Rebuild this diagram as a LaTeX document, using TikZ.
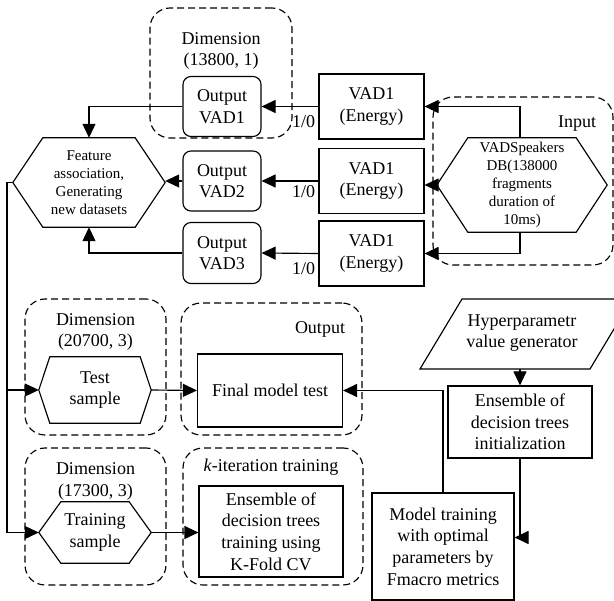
\documentclass[tikz,border=0pt]{standalone}
\usepackage{fontspec}
\setmainfont{Liberation Serif}
\usetikzlibrary{arrows.meta,calc}
\newcommand\hexdraw[2]{\draw[ln] (#1.west) -- ([xshift=#2]#1.north west) -- ([xshift=-#2]#1.north east) -- (#1.east) -- ([xshift=-#2]#1.south east) -- ([xshift=#2]#1.south west) -- cycle;}
\begin{document}
\begin{tikzpicture}[x=1pt,y=-1pt,
  every node/.style={font=\fontsize{18}{21.6}\selectfont, align=center, inner sep=0pt},
  ln/.style={line width=1.15pt},
  box/.style={draw, ln},
  rbox/.style={draw, ln, rounded corners=8pt},
  grp/.style={draw, line width=1.15pt, dash pattern=on 7pt off 4pt, rounded corners=20pt},
  arr/.style={ln, -{Triangle[length=14pt,width=13pt]}},
  small/.style={font=\fontsize{15}{18}\selectfont},
  lab/.style={pos=0.26, anchor=north}]
\useasboundingbox[fill=white] (0,0) rectangle (614,601);

% dashed groups
\node[grp, minimum width=142pt, minimum height=130pt] (g1) at (221,73) {};
\node[grp, minimum width=180pt, minimum height=168pt] (gin) at (523,181) {};
\node[grp, minimum width=141pt, minimum height=136pt] (g2) at (95.5,367) {};
\node[grp, minimum width=181pt, minimum height=132pt] (gout) at (271.5,369) {};
\node[grp, minimum width=141pt, minimum height=137pt] (g3) at (95.5,516.5) {};
\node[grp, minimum width=180pt, minimum height=137pt] (gk) at (273,516.5) {};

% group labels
\node (dim1) at (221,51) {Dimension\\(13800, 1)};
\node (dim2) at (95.5,332) {Dimension\\(20700, 3)};
\node (dim3) at (95.5,481.5) {Dimension\\(17300, 3)};
\node (inlab) at (577,124) {Input};
\node (outlab) at (320,329) {Output};
\node (klab) at (271,467) {\textit{k}-iteration training};

% output VAD boxes
\node[rbox, minimum width=78pt, minimum height=60pt] (out1) at (222,106.5) {Output\\VAD1};
\node[rbox, minimum width=78pt, minimum height=60pt] (out2) at (222,181) {Output\\VAD2};
\node[rbox, minimum width=78pt, minimum height=61pt] (out3) at (222,253) {Output\\VAD3};

% VAD energy boxes
\node[box, minimum width=105pt, minimum height=65pt] (vad1) at (371.5,106.5) {VAD1\\(Energy)};
\node[box, minimum width=105pt, minimum height=65pt] (vad2) at (371.5,181) {VAD1\\(Energy)};
\node[box, minimum width=105pt, minimum height=65pt] (vad3) at (371.5,253.5) {VAD1\\(Energy)};

% hexagons
\node[small, minimum width=152pt, minimum height=89pt] (feat) at (89,182.5) {Feature\\association,\\Generating\\new datasets};
\hexdraw{feat}{30pt}
\node[small, minimum width=170pt, minimum height=94pt] (inp) at (522,185) {VADSpeakers\\DB(138000\\fragments\\duration of\\10ms)};
\hexdraw{inp}{31pt}
\node[minimum width=112pt, minimum height=66pt] (test) at (95,390) {Test\\sample};
\hexdraw{test}{11pt}
\node[minimum width=112pt, minimum height=61pt] (train) at (95,532.5) {Training\\sample};
\hexdraw{train}{22pt}

% lower boxes
\node[box, minimum width=145pt, minimum height=73pt] (final) at (270,390.5) {Final model test};
\node[box, minimum width=144pt, minimum height=91pt] (tbox) at (271,531.5) {Ensemble of\\decision trees\\training using\\K-Fold CV};
\node[box, minimum width=144pt, minimum height=72pt] (init) at (520,422) {Ensemble of\\decision trees\\initialization};
\node[box, minimum width=142pt, minimum height=107pt] (model) at (443,546.5) {Model training\\with optimal\\parameters by\\Fmacro metrics};

% parallelogram
\node (hyp) at (522,333) {Hyperparametr\\value generator};
\coordinate (hyA) at (420,369);
\coordinate (hyB) at (590,369);
\coordinate (hyC) at (632,299);
\coordinate (hyD) at (462,299);
\coordinate (hyS) at (520,369);
\draw[ln] (hyA) -- (hyB) -- (hyC) -- (hyD) -- cycle;

% connectors
\draw[arr] (vad1.west) -- node[lab, yshift=-8pt] {1/0} (out1.east);
\draw[arr] (vad2.west) -- node[lab, yshift=-4pt] {1/0} (out2.east);
\draw[arr] (vad3.west) -- node[lab, yshift=-9pt] {1/0} (out3.east);
\draw[arr] (out1.west) -| (feat.north);
\draw[arr] (out2.west) -- (out2.west -| feat.east);
\draw[arr] (out3.west) -| (feat.south);
\draw[arr] ([xshift=-2pt]inp.north) |- (vad1.east);
\draw[arr] (inp.west) -- (inp.west -| vad2.east);
\draw[arr] ([xshift=-2pt]inp.south) |- (vad3.east);

\coordinate (bus) at (7,182.5);
\draw[ln] (feat.west) -- (bus);
\draw[arr] (bus) |- (test.west);
\draw[arr] (bus) |- (train.west);
\draw[arr] (test.east) -- (final.west);
\draw[arr] (train.east) -- (train.east -| tbox.west);
\draw[arr] (model.north) |- (final.east);
\draw[arr] (hyS) -- (init.north);
\draw[arr] (init.south) |- ($(model.east)+(0,-9)$);
\end{tikzpicture}
\end{document}
